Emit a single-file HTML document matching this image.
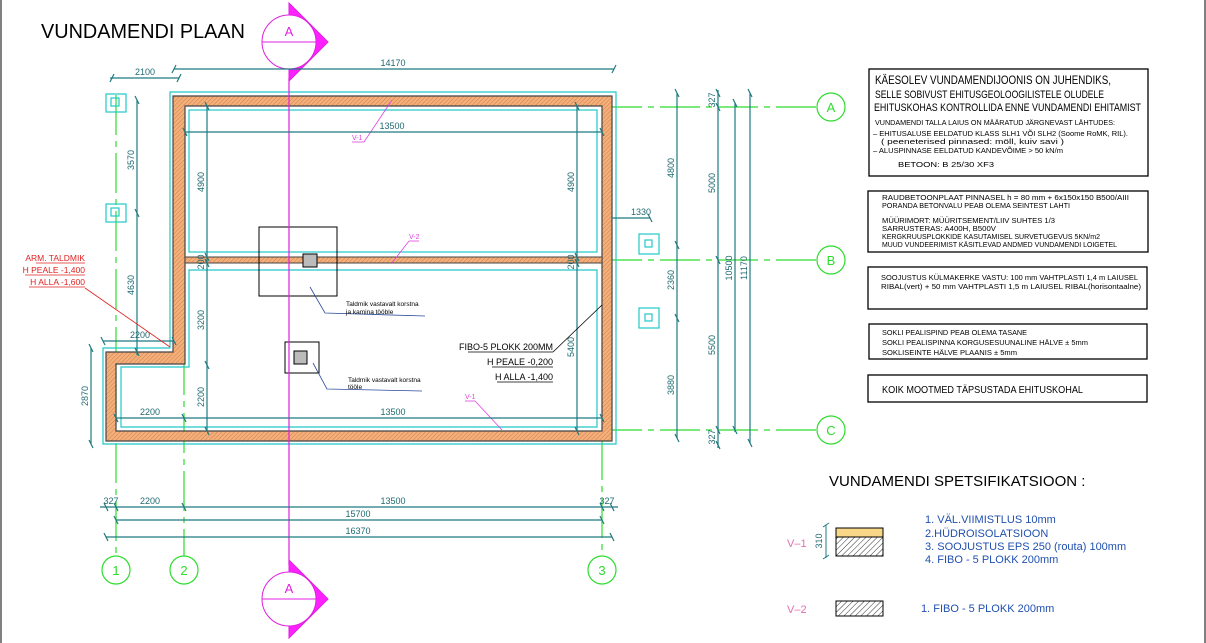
<!DOCTYPE html>
<html><head><meta charset="utf-8"><style>
html,body{margin:0;padding:0;background:#fff;}
svg{display:block;font-family:"Liberation Sans",sans-serif;}
.d{stroke:#1f7a80;stroke-width:1.2;fill:none}
.t{fill:#1f6a70;font-size:9px}
.g{stroke:#2ddc2d;stroke-width:1.2;fill:none;stroke-dasharray:40 6 6 6}
.gc{stroke:#2ddc2d;stroke-width:1.2;fill:#fff}
.gt{fill:#2ddc2d;font-size:13px;text-anchor:middle}
.c{stroke:#20c8c8;stroke-width:1.2;fill:none}
.k{font-size:8px;fill:#000}
.s{font-size:6.5px;fill:#000}
.b{fill:#2050b0;font-size:11px}
</style></head><body>
<svg width="1206" height="643" viewBox="0 0 1206 643" xmlns="http://www.w3.org/2000/svg">
<defs>
<pattern id="h" width="3" height="3" patternUnits="userSpaceOnUse" patternTransform="rotate(45)">
<rect width="3" height="3" fill="#f4b07a"/><line x1="0" y1="0" x2="0" y2="3" stroke="#c87040" stroke-width="0.8"/>
</pattern>
<pattern id="h2" width="4" height="4" patternUnits="userSpaceOnUse" patternTransform="rotate(45)">
<rect width="4" height="4" fill="#fff"/><line x1="0" y1="0" x2="0" y2="4" stroke="#333" stroke-width="1"/>
</pattern>
</defs>
<line x1="1" y1="0" x2="1" y2="643" stroke="#000"/>
<line x1="1205" y1="0" x2="1205" y2="643" stroke="#000"/>
<text x="41" y="38" font-size="20" fill="#000" textLength="204" lengthAdjust="spacingAndGlyphs">VUNDAMENDI PLAAN</text>

<!-- grid lines -->
<line class="g" x1="116" y1="95" x2="116" y2="556"/>
<line class="g" x1="184" y1="355" x2="184" y2="556"/>
<line class="g" x1="602" y1="440" x2="602" y2="556"/>
<line class="g" x1="602" y1="107" x2="817" y2="107"/>
<line class="g" x1="602" y1="260" x2="817" y2="260"/>
<line class="g" x1="602" y1="430" x2="817" y2="430"/>
<circle class="gc" cx="116" cy="570" r="14"/><text class="gt" x="116" y="575">1</text>
<circle class="gc" cx="184" cy="570" r="14"/><text class="gt" x="184" y="575">2</text>
<circle class="gc" cx="602" cy="570" r="14"/><text class="gt" x="602" y="575">3</text>
<circle class="gc" cx="831" cy="107" r="14"/><text class="gt" x="831" y="112">A</text>
<circle class="gc" cx="831" cy="260" r="14"/><text class="gt" x="831" y="265">B</text>
<circle class="gc" cx="831" cy="430" r="14"/><text class="gt" x="831" y="435">C</text>

<!-- outer cyan -->
<path class="c" d="M170 92H616V444H103V348H170Z"/>
<!-- wall -->
<path d="M173 96H612V441H106V352H173Z M185 106V364H116V431H602V106Z" fill="url(#h)" fill-rule="evenodd" stroke="#444" stroke-width="1.2"/>
<rect x="185" y="257" width="417" height="6" fill="url(#h)" stroke="#444" stroke-width="1"/>
<rect class="c" x="189" y="110" width="408" height="142"/>
<path class="c" d="M189 270H597V427H121V367H189Z"/>

<!-- footings -->
<rect x="259" y="227" width="78" height="69" fill="none" stroke="#000"/>
<rect x="303" y="254" width="14" height="13" fill="#bbb" stroke="#000"/>
<rect x="285" y="342" width="34" height="31" fill="none" stroke="#000"/>
<rect x="294" y="351" width="13" height="13" fill="#bbb" stroke="#000"/>
<polyline points="310,287 325,313 425,316" fill="none" stroke="#2a4a9a" stroke-width="0.8"/>
<text class="s" x="346" y="306">Taldmik vastavalt korstna</text><text class="s" x="346" y="314">ja kamina tööble</text>
<polyline points="313,363 327,389 422,391" fill="none" stroke="#2a4a9a" stroke-width="0.8"/>
<text class="s" x="348" y="382">Taldmik vastavalt korstna</text><text class="s" x="348" y="389">tööle</text>

<!-- magenta section line -->
<line x1="289" y1="78" x2="289" y2="565" stroke="#e020e0" stroke-width="1.2"/>
<g fill="#ff20ff" stroke="#e020e0">
<path d="M289 3L328 42L289 81Z"/>
<circle cx="289" cy="42" r="27" fill="#fff"/>
<line x1="262" y1="42" x2="316" y2="42"/>
<path d="M289 560L328 599L289 638Z"/>
<circle cx="289" cy="599" r="27" fill="#fff"/>
<line x1="262" y1="599" x2="316" y2="599"/>
</g>
<text x="289" y="36" font-size="13" fill="#e020e0" text-anchor="middle">A</text>
<text x="289" y="593" font-size="13" fill="#e020e0" text-anchor="middle">A</text>

<!-- pink V labels -->
<g stroke="#e040e0" stroke-width="0.8" fill="none">
<line x1="364" y1="142" x2="392" y2="100"/><line x1="352" y1="142" x2="364" y2="142"/>
<line x1="392" y1="263" x2="409" y2="241"/><line x1="409" y1="241" x2="419" y2="241"/>
<line x1="502" y1="430" x2="475" y2="401"/><line x1="465" y1="401" x2="475" y2="401"/>
</g>
<g fill="#e040e0" font-size="7"><text x="352" y="140">V-1</text><text x="409" y="239">V-2</text><text x="465" y="399">V-1</text></g>

<!-- dims -->
<g class="d">
<line x1="174" y1="69" x2="614" y2="69"/><line x1="172" y1="73" x2="176" y2="65"/><line x1="612" y1="73" x2="616" y2="65"/>
<line x1="110" y1="78" x2="179" y2="78"/><line x1="110" y1="82" x2="114" y2="74"/><line x1="177" y1="82" x2="181" y2="74"/>
<line x1="185" y1="132" x2="602" y2="132"/>
<line x1="207" y1="106" x2="207" y2="431"/><line x1="577" y1="106" x2="577" y2="431"/>
<line x1="137" y1="100" x2="137" y2="355"/><line x1="91" y1="348" x2="91" y2="444"/>
<line x1="103" y1="341" x2="174" y2="341"/>
<line x1="116" y1="418" x2="602" y2="418"/>
<line x1="100" y1="507" x2="618" y2="507"/>
<line x1="116" y1="520" x2="602" y2="520"/>
<line x1="106" y1="537" x2="612" y2="537"/>
<line x1="612" y1="218" x2="650" y2="218"/>
<line x1="677" y1="93" x2="677" y2="438"/>
<line x1="718" y1="90" x2="718" y2="448"/>
<line x1="735" y1="103" x2="735" y2="432"/>
<line x1="750" y1="93" x2="750" y2="443"/>
</g>
<g stroke="#1f7a80" stroke-width="1.2">
<path d="M135 96l4 8M135 209l4 8M135 348l4 8M89 344l4 8M89 440l4 8M101 337l4 8M172 337l4 8M114 414l4 8M182 414l4 8M600 414l4 8M183 128l4 8M600 128l4 8M205 102l4 8M205 253l4 8M205 259l4 8M205 361l4 8M205 427l4 8M575 102l4 8M575 253l4 8M575 259l4 8M575 427l4 8
M104 503l4 8M114 503l4 8M182 503l4 8M600 503l4 8M610 503l4 8M114 516l4 8M600 516l4 8M104 533l4 8M610 533l4 8
M648 214l4 8M675 89l4 8M675 241l4 8M675 314l4 8M675 434l4 8M716 89l4 8M716 103l4 8M716 256l4 8M716 426l4 8M716 441l4 8M733 99l4 8M733 426l4 8M748 89l4 8M748 439l4 8"/>
</g>
<g class="t" text-anchor="middle">
<text x="393" y="66">14170</text><text x="145" y="75">2100</text><text x="392" y="129">13500</text>
<text x="140" y="338">2200</text><text x="150" y="415">2200</text><text x="393" y="415">13500</text>
<text x="111" y="504">327</text><text x="150" y="504">2200</text><text x="393" y="504">13500</text><text x="607" y="504">327</text>
<text x="358" y="517">15700</text><text x="358" y="534">16370</text><text x="641" y="215">1330</text>
</g>
<g class="t" text-anchor="middle">
<text transform="translate(204,182) rotate(-90)">4900</text><text transform="translate(204,262) rotate(-90)">200</text>
<text transform="translate(204,320) rotate(-90)">3200</text><text transform="translate(204,397) rotate(-90)">2200</text>
<text transform="translate(574,182) rotate(-90)">4900</text><text transform="translate(574,262) rotate(-90)">200</text>
<text transform="translate(574,347) rotate(-90)">5400</text>
<text transform="translate(134,160) rotate(-90)">3570</text><text transform="translate(134,285) rotate(-90)">4630</text>
<text transform="translate(88,396) rotate(-90)">2870</text>
<text transform="translate(674,168) rotate(-90)">4800</text><text transform="translate(674,280) rotate(-90)">2360</text><text transform="translate(674,385) rotate(-90)">3880</text>
<text transform="translate(715,183) rotate(-90)">5000</text><text transform="translate(715,345) rotate(-90)">5500</text>
<text transform="translate(715,100) rotate(-90)">327</text><text transform="translate(715,437) rotate(-90)">327</text>
<text transform="translate(732,268) rotate(-90)">10500</text><text transform="translate(747,268) rotate(-90)">11170</text>
</g>

<!-- squares -->
<g class="c">
<rect x="106" y="94" width="20" height="18"/><rect x="111" y="98" width="8" height="8"/>
<rect x="106" y="204" width="20" height="18"/><rect x="111" y="208" width="8" height="8"/>
<rect x="639" y="234" width="20" height="20"/><rect x="645" y="240" width="7" height="7"/>
<rect x="639" y="308" width="20" height="20"/><rect x="645" y="314" width="7" height="7"/>
</g>

<!-- red label -->
<g fill="#e02020" font-size="8.5" text-anchor="end">
<text x="85" y="261">ARM. TALDMIK</text><text x="85" y="273">H PEALE -1,400</text><text x="85" y="285">H ALLA -1,600</text>
</g>
<g stroke="#e02020" stroke-width="0.8"><line x1="36" y1="263" x2="85" y2="263"/><line x1="25" y1="275" x2="85" y2="275"/><line x1="29" y1="287" x2="85" y2="287"/><line x1="85" y1="288" x2="170" y2="347"/></g>

<!-- fibo label -->
<g font-size="9" text-anchor="end" fill="#000">
<text x="553" y="350">FIBO-5 PLOKK  200MM</text><text x="553" y="365">H PEALE -0,200</text><text x="553" y="380">H ALLA -1,400</text>
</g>
<g stroke="#000" stroke-width="0.8"><line x1="468" y1="352" x2="553" y2="352"/><line x1="492" y1="367" x2="553" y2="367"/><line x1="497" y1="382" x2="553" y2="382"/><line x1="553" y1="352" x2="602" y2="305"/></g>

<!-- text boxes -->
<g fill="none" stroke="#000" stroke-width="1.3">
<rect x="869" y="69" width="279" height="107"/><rect x="868" y="191" width="280" height="61"/>
<rect x="868" y="267" width="279" height="42"/><rect x="869" y="324" width="278" height="35"/>
<rect x="868" y="375" width="279" height="27"/>
</g>
<g fill="#000" font-size="11.5">
<text x="875" y="84" textLength="236" lengthAdjust="spacingAndGlyphs">KÄESOLEV VUNDAMENDIJOONIS ON JUHENDIKS,</text>
<text x="875" y="98" font-size="11" textLength="229" lengthAdjust="spacingAndGlyphs">SELLE SOBIVUST EHITUSGEOLOOGILISTELE OLUDELE</text>
<text x="874" y="111" font-size="11" textLength="267" lengthAdjust="spacingAndGlyphs">EHITUSKOHAS KONTROLLIDA ENNE VUNDAMENDI EHITAMIST</text>
</g>
<g class="k" font-size="7.5">
<text x="875" y="125" font-size="7.5" textLength="240" lengthAdjust="spacingAndGlyphs">VUNDAMENDI TALLA LAIUS ON MÄÄRATUD JÄRGNEVAST LÄHTUDES:</text>
<text x="873" y="136" font-size="7.5" textLength="255" lengthAdjust="spacingAndGlyphs">– EHITUSALUSE EELDATUD KLASS SLH1 VÕI SLH2 (Soome RoMK, RIL).</text>
<text x="881" y="144" font-size="7.5" textLength="183" lengthAdjust="spacingAndGlyphs">( peeneterised pinnased: möll, kuiv savi )</text>
<text x="873" y="153" font-size="7.5" textLength="190" lengthAdjust="spacingAndGlyphs">– ALUSPINNASE EELDATUD KANDEVÕIME &gt; 50 kN/m</text>
<text x="898" y="167" font-size="7.5" textLength="96" lengthAdjust="spacingAndGlyphs">BETOON:       B 25/30 XF3</text>
<text x="882" y="200" font-size="7.5" textLength="247" lengthAdjust="spacingAndGlyphs">RAUDBETOONPLAAT PINNASEL h  = 80 mm + 6x150x150 B500/AIII</text>
<text x="882" y="208" font-size="7.5" textLength="188" lengthAdjust="spacingAndGlyphs">PORANDA BETONVALU PEAB OLEMA SEINTEST LAHTI</text>
<text x="882" y="223" font-size="7.5" textLength="173" lengthAdjust="spacingAndGlyphs">MÜÜRIMORT:   MÜÜRITSEMENT/LIIV   SUHTES 1/3</text>
<text x="882" y="231" font-size="7.5" textLength="114" lengthAdjust="spacingAndGlyphs">SARRUSTERAS:    A400H, B500V</text>
<text x="882" y="239" font-size="7.5" textLength="218" lengthAdjust="spacingAndGlyphs">KERGKRUUSPLOKKIDE KASUTAMISEL SURVETUGEVUS 5KN/m2</text>
<text x="882" y="247" font-size="7.5" textLength="235" lengthAdjust="spacingAndGlyphs">MUUD VUNDEERIMIST KÄSITLEVAD ANDMED VUNDAMENDI LOIGETEL</text>
<text x="881" y="280" font-size="7.5" textLength="257" lengthAdjust="spacingAndGlyphs">SOOJUSTUS KÜLMAKERKE VASTU: 100 mm VAHTPLASTI 1,4 m LAIUSEL</text>
<text x="881" y="289" font-size="7.5" textLength="260" lengthAdjust="spacingAndGlyphs">RIBAL(vert) + 50 mm VAHTPLASTI 1,5 m LAIUSEL RIBAL(horisontaalne)</text>
<text x="882" y="335" font-size="7.5" textLength="145" lengthAdjust="spacingAndGlyphs">SOKLI PEALISPIND PEAB OLEMA TASANE</text>
<text x="882" y="345" font-size="7.5" textLength="206" lengthAdjust="spacingAndGlyphs">SOKLI PEALISPINNA KORGUSESUUNALINE HÄLVE   ± 5mm</text>
<text x="882" y="355" font-size="7.5" textLength="135" lengthAdjust="spacingAndGlyphs">SOKLISEINTE HÄLVE PLAANIS ± 5mm</text>
<text x="882" y="393" font-size="10" textLength="201" lengthAdjust="spacingAndGlyphs">KOIK MOOTMED TÄPSUSTADA EHITUSKOHAL</text>
</g>

<!-- spec -->
<text x="829" y="486" font-size="15" fill="#000">VUNDAMENDI SPETSIFIKATSIOON :</text>
<g fill="#e070b0" font-size="11"><text x="787" y="547">V–1</text><text x="787" y="613">V–2</text></g>
<rect x="836" y="528" width="47" height="9" fill="#f8d888" stroke="#000"/>
<rect x="836" y="537" width="47" height="19" fill="url(#h2)" stroke="#000"/>
<rect x="836" y="601" width="47" height="15" fill="url(#h2)" stroke="#000"/>
<path d="M826 525V558M823 527l6-4M823 559l6-4" stroke="#1f7a80" fill="none"/>
<text transform="translate(822,541) rotate(-90)" class="t" text-anchor="middle">310</text>
<g class="b">
<text x="925" y="523">1. VÄL.VIIMISTLUS 10mm</text>
<text x="925" y="537">2.HÜDROISOLATSIOON</text>
<text x="925" y="550">3. SOOJUSTUS EPS 250 (routa) 100mm</text>
<text x="925" y="563">4. FIBO - 5 PLOKK  200mm</text>
<text x="921" y="612">1. FIBO - 5 PLOKK  200mm</text>
</g>
</svg>
</body></html>
